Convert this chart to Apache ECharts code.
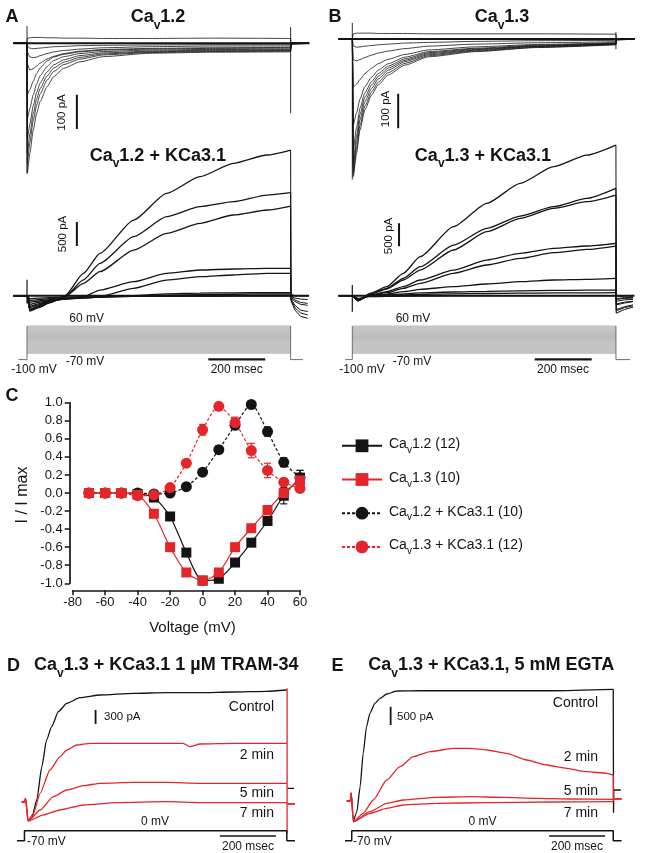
<!DOCTYPE html>
<html>
<head>
<meta charset="utf-8">
<script src="https://cdn.jsdelivr.net/npm/echarts@6.0.0/dist/echarts.min.js"></script>
<style>
html,body{margin:0;padding:0;background:#ffffff;}
#chart{width:646px;height:853px;}
</style>
</head>
<body>
<div id="chart"></div>
<script>
// ================= DATA =================
// Panel A top: CaV1.2 currents (pA) at times after step onset (ms)
const timeA1 = [0, 1, 10, 22, 34, 46, 70, 94, 129, 186, 268, 432, 650, 925];
const cav12Currents = [
  [0, -379, -321, -253, -204, -170, -127, -97, -73, -54, -39, -29, -26, -25],
  [0, -350, -290, -225, -180, -148, -108, -82, -62, -46, -34, -27, -24, -23],
  [0, -320, -265, -205, -162, -132, -96, -72, -55, -41, -31, -25, -22, -21],
  [0, -280, -235, -182, -143, -116, -84, -63, -48, -36, -28, -23, -20, -19],
  [0, -220, -190, -150, -118, -95, -68, -50, -39, -30, -24, -20, -18, -17],
  [0, -150, -135, -110, -88, -72, -52, -40, -32, -25, -20, -17, -15, -14],
  [0, -60, -78, -74, -66, -58, -46, -38, -30, -23, -18, -15, -13, -12],
  [0, -25, -40, -42, -40, -36, -30, -25, -21, -17, -13, -10, -8, -8],
  [0, -8, -14, -16, -15, -14, -12, -10, -9, -7, -6, -5, -4, -4],
  [0, 14, 16, 17, 17, 17, 16, 16, 15, 15, 14, 14, 15, 14]
];
// Panel B top: CaV1.3 currents (pA)
const timeB1 = [0, 3.5, 15, 27, 44, 68, 91, 126, 185, 267, 432, 650, 925];
const cav13Currents = [
  [0, -401, -333, -265, -207, -163, -134, -105, -76, -52, -37, -25, -17],
  [0, -390, -318, -252, -196, -154, -126, -98, -71, -49, -35, -24, -16],
  [0, -375, -300, -236, -183, -144, -117, -91, -66, -46, -33, -22, -15],
  [0, -355, -282, -220, -170, -134, -109, -85, -62, -43, -31, -21, -14],
  [0, -320, -258, -202, -157, -124, -101, -79, -58, -40, -29, -20, -13],
  [0, -250, -215, -175, -139, -111, -91, -72, -53, -37, -27, -18, -12],
  [0, -140, -132, -118, -101, -85, -72, -59, -45, -32, -23, -16, -11],
  [0, -60, -64, -60, -54, -47, -41, -35, -28, -21, -15, -11, -8],
  [0, -20, -24, -23, -21, -19, -17, -15, -12, -10, -7, -5, -4],
  [0, 15, 17, 17, 17, 17, 16, 16, 16, 15, 15, 15, 14]
];
// Panel A bottom: CaV1.2 + KCa3.1 currents (pA)
const timeA2 = [0, 10, 40, 80, 133, 198, 256, 374, 490, 607, 724, 842, 925];
const cav12KCurrents = [
  [0, -320, -250, -150, 0, 465, 882, 1576, 2132, 2479, 2757, 2931, 3035],
  [0, -300, -230, -140, -20, 330, 674, 1229, 1646, 1854, 1958, 2097, 2146],
  [0, -280, -210, -130, -20, 257, 500, 951, 1299, 1507, 1681, 1785, 1868],
  [0, -250, -190, -120, -60, -20, 118, 292, 465, 535, 556, 569, 569],
  [0, -220, -170, -110, -70, -40, -10, 153, 326, 396, 431, 465, 465],
  [0, -180, -140, -100, -70, -50, -30, 0, 40, 55, 60, 62, 62],
  [0, -140, -110, -80, -60, -45, -30, -10, 10, 20, 30, 35, 35],
  [0, -100, -80, -60, -45, -35, -25, -15, -10, -5, 0, 0, 0],
  [0, -60, -50, -40, -30, -25, -20, -15, -10, -8, -5, -5, -5]
];
const tailTimeA2 = [926, 940, 960, 985];
const cav12KTails = [
  [-100, -300, -430, -470], [-80, -250, -360, -400], [-60, -200, -300, -330],
  [-40, -120, -180, -200], [-30, -90, -140, -160], [-20, -50, -70, -80],
  [0, 0, 0, 0], [0, 0, 0, 0], [0, 0, 0, 0]
];
// Panel B bottom: CaV1.3 + KCa3.1 currents (pA)
const timeB2 = [0, 20, 62, 121, 179, 238, 355, 472, 589, 706, 823, 925];
const cav13KCurrents = [
  [0, -110, 51, 196, 486, 848, 1500, 2007, 2442, 2804, 3058, 3275],
  [0, -110, 36, 159, 377, 630, 1101, 1464, 1732, 1935, 2116, 2333],
  [0, -105, 36, 145, 341, 558, 993, 1391, 1681, 1899, 2043, 2188],
  [0, -100, 14, 87, 196, 341, 558, 775, 920, 1029, 1080, 1138],
  [0, -100, 7, 65, 159, 268, 486, 667, 812, 935, 1007, 1080],
  [0, -90, 7, 36, 87, 138, 196, 254, 304, 341, 355, 377],
  [0, -80, 0, 15, 40, 60, 80, 95, 105, 115, 120, 123],
  [0, -70, -5, 10, 20, 30, 40, 48, 55, 60, 62, 65],
  [0, -60, -20, -15, -10, -5, 0, 0, 0, 0, 0, 0]
];
const tailTimeB2 = [926, 955, 985];
const cav13KTails = [
  [-380, -300, -250], [-330, -260, -220], [-300, -240, -200], [-200, -160, -130],
  [-180, -140, -120], [-120, -90, -80], [-80, -60, -50], [-60, -45, -40], [-40, -30, -25]
];
// Voltage protocol (mV)
const stepLevels = [-70, -65, -60, -55, -50, -45, -40, -35, -30, -25, -20, -15, -10, -5,
                    0, 5, 10, 15, 20, 25, 30, 35, 40, 45, 50, 55, 60];
const holdingMV = -100;
const pulseEndMs = 925;

// Panel C: normalized I-V relations
const voltages = [-70, -60, -50, -40, -30, -20, -10, 0, 10, 20, 30, 40, 50, 60];
const cav12IV = [0, 0, 0, -0.01, -0.05, -0.26, -0.66, -0.97, -0.95, -0.77, -0.55, -0.31, -0.03, 0.17];
const cav12Err = [0.01, 0.01, 0.01, 0.01, 0.02, 0.04, 0.03, 0.01, 0.02, 0.03, 0.03, 0.04, 0.09, 0.08];
const cav13IV = [0, 0, 0, -0.02, -0.23, -0.60, -0.88, -0.97, -0.88, -0.60, -0.39, -0.19, 0.0, 0.14];
const cav13Err = [0.01, 0.01, 0.01, 0.01, 0.02, 0.03, 0.02, 0.01, 0.03, 0.04, 0.04, 0.05, 0.03, 0.03];
const cav12KIV = [0, 0, 0, 0, -0.01, 0.0, 0.07, 0.23, 0.48, 0.75, 0.98, 0.68, 0.34, 0.17];
const cav12KErr = [0.01, 0.01, 0.01, 0.01, 0.01, 0.01, 0.01, 0.02, 0.04, 0.03, 0.01, 0.05, 0.05, 0.08];
const cav13KIV = [0, 0, 0, -0.03, -0.02, 0.06, 0.33, 0.70, 0.96, 0.78, 0.47, 0.25, 0.12, 0.05];
const cav13KErr = [0.01, 0.01, 0.01, 0.01, 0.01, 0.02, 0.03, 0.06, 0.01, 0.06, 0.08, 0.08, 0.04, 0.02];
const ivNames = ['Cav1.2 (12)', 'Cav1.3 (10)', 'Cav1.2 + KCa3.1 (10)', 'Cav1.3 + KCa3.1 (12)'];

// Panel D: CaV1.3 + KCa3.1, TRAM-34 (pA)
const timeDControl = [5, 18, 36, 54, 71, 89, 113, 143, 190, 262, 381, 500, 619, 738, 857, 929];
const currentDControl = [-407, -350, 43, 756, 1328, 1613, 1934, 2114, 2233, 2291, 2328, 2341, 2341, 2355, 2370, 2398];
const timeD2 = [5, 24, 48, 83, 119, 143, 179, 226, 381, 559, 583, 619, 738, 929];
const currentD2 = [-407, -242, 186, 685, 970, 1113, 1220, 1257, 1257, 1257, 1184, 1242, 1257, 1257];
const timeD5 = [5, 48, 95, 143, 203, 262, 381, 500, 619, 738, 929];
const currentD5 = [-407, -171, 114, 257, 349, 400, 421, 421, 400, 400, 400];
const timeD7 = [5, 60, 119, 203, 321, 500, 619, 929];
const currentD7 = [-407, -278, -171, -64, -15, 6, -15, -15];
const preTimeD = [-18, -8, -4];
const preCurrentD = [0, 0, 79];
// Panel E: CaV1.3 + KCa3.1, 5 mM EGTA (pA)
const timeEControl = [5, 17, 29, 40, 52, 64, 82, 100, 124, 160, 243, 481, 719, 933];
const currentEControl = [-563, -308, 390, 1300, 2027, 2390, 2662, 2798, 2916, 2997, 3005, 3005, 3005, 3043];
const timeE2 = [5, 40, 76, 124, 171, 219, 279, 362, 421, 481, 552, 624, 695, 767, 838, 910, 933];
const currentE2 = [-563, -336, 27, 572, 935, 1208, 1344, 1435, 1435, 1390, 1299, 1117, 981, 890, 799, 754, 708];
const timeE5 = [5, 64, 124, 183, 302, 421, 540, 660, 779, 933];
const currentE5 = [-563, -290, -64, 27, 100, 118, 100, 73, 55, 45];
const timeE7 = [5, 64, 124, 183, 302, 481, 719, 933];
const currentE7 = [-563, -336, -200, -109, -64, -45, -27, -18];
const preTimeE = [-19, -6, -3];
const preCurrentE = [0, 0, 218];

// ================= LAYOUT / STYLE =================
const FONT = "'Liberation Sans', Arial, Helvetica, sans-serif";
const INK = '#141414';
const RED = '#e4262b';
const GREY = '#6e6e6e';

const grids = [
  [12.75, 22.7, 299.25, 164.6],   // 0 A top
  [12.75, 137.3, 299.25, 192],    // 1 A bottom
  [12.75, 323.9, 299.25, 37.8],   // 2 A protocol
  [338.05, 18.4, 299.25, 164.6],  // 3 B top
  [338.05, 139.3, 299.25, 193.2], // 4 B bottom
  [338.05, 323.9, 299.25, 37.8],  // 5 B protocol
  [72.7, 402.7, 227.3, 180.6],    // 6 C
  [16.9, 685.25, 287, 154.1],     // 7 D
  [16.9, 829.3, 287, 12.86],      // 8 D protocol
  [342.2, 679.9, 287, 157.8],     // 9 E
  [342.2, 829.3, 287, 12.86]      // 10 E protocol
];
const ranges = [
  [-50, 1000, -420, 60], [-50, 1000, -700, 3300], [-50, 1000, -110, 70],
  [-50, 1000, -420, 60], [-50, 1000, -800, 3400], [-50, 1000, -110, 70],
  [-80, 60, -1, 1],
  [-35, 990, -800, 2500], [-35, 990, -80, 10], [-35, 990, -1000, 3300], [-35, 990, -80, 10]
];

const xAxes = [], yAxes = [];
grids.forEach(function (g, i) {
  const r = ranges[i];
  if (i === 6) {
    xAxes.push({
      type: 'value', gridIndex: i, min: r[0], max: r[1], interval: 20, offset: 7,
      axisLine: {show: true, onZero: false, lineStyle: {color: INK, width: 1.7}},
      axisTick: {show: true, length: 5, lineStyle: {color: INK, width: 1.5}},
      axisLabel: {color: INK, fontSize: 13, fontFamily: FONT, margin: 6},
      splitLine: {show: false}
    });
    yAxes.push({
      type: 'value', gridIndex: i, min: r[2], max: r[3], interval: 0.2, offset: 3,
      axisLine: {show: true, onZero: false, lineStyle: {color: INK, width: 1.7}},
      axisTick: {show: true, length: 5, lineStyle: {color: INK, width: 1.5}},
      axisLabel: {color: INK, fontSize: 13, fontFamily: FONT, margin: 7,
        formatter: function (v) { return Math.abs(v) < 1e-9 ? '0.0' : v.toFixed(1); }},
      splitLine: {show: false}
    });
  } else {
    xAxes.push({type: 'value', gridIndex: i, min: r[0], max: r[1], show: false, splitLine: {show: false}});
    yAxes.push({type: 'value', gridIndex: i, min: r[2], max: r[3], show: false, splitLine: {show: false}});
  }
});

const series = [];
function addLine(gi, data, color, width, extra) {
  series.push(Object.assign({
    type: 'line', xAxisIndex: gi, yAxisIndex: gi, data: data,
    symbol: 'none', showSymbol: false, silent: true, animation: false,
    lineStyle: {color: color, width: width}, itemStyle: {color: color},
    emphasis: {disabled: true}, z: 2
  }, extra || {}));
}
function pairs(ts, vs) { return ts.map(function (t, i) { return [t, vs[i]]; }); }
const SMOOTH = {smooth: 0.2, smoothMonotone: 'x'};

// ---- A top / B top (Ca currents) ----
function topPanel(gi, times, traces, extraLines) {
  addLine(gi, [[-48, 0], [990, 0]], INK, 2);
  traces.forEach(function (tr) {
    addLine(gi, [[-48, 0]].concat(pairs(times, tr)), INK, 0.8, SMOOTH);
    addLine(gi, [[times[times.length - 1], tr[tr.length - 1]], [927, 0], [990, 0]], INK, 0.8);
  });
  extraLines.forEach(function (l) { addLine(gi, l, INK, 0.9); });
}
topPanel(0, timeA1, cav12Currents, [[[0, 50], [0, -380]], [[925, 47], [925, -204]]]);
topPanel(3, timeB1, cav13Currents, [[[0, 47], [0, -410]], [[925, 20], [925, -30]]]);

// ---- A bottom / B bottom (KCa3.1 currents) ----
function kPanel(gi, times, traces, tailT, tails, startLine) {
  addLine(gi, [[-48, 0], [990, 0]], INK, 2);
  traces.forEach(function (tr, k) {
    addLine(gi, [[-48, 0]].concat(pairs(times, tr)), INK, 1.3, SMOOTH);
    addLine(gi, [[times[times.length - 1], tr[tr.length - 1]]].concat(pairs(tailT, tails[k])), INK, 1.0);
  });
  addLine(gi, startLine, INK, 1.2);
}
kPanel(1, timeA2, cav12KCurrents, tailTimeA2, cav12KTails, [[0, 330], [0, -160]]);
kPanel(4, timeB2, cav13KCurrents, tailTimeB2, cav13KTails, [[0, 230], [0, -350]]);

// ---- protocols A / B ----
function protocol(gi, leftT, rightT) {
  stepLevels.forEach(function (v) {
    addLine(gi, [[0, v], [pulseEndMs, v]], '#808080', 0.55);
  });
  addLine(gi, [[leftT, holdingMV], [0, holdingMV], [0, stepLevels[stepLevels.length - 1]]], GREY, 1);
  addLine(gi, [[pulseEndMs, stepLevels[stepLevels.length - 1]], [pulseEndMs, holdingMV], [rightT, holdingMV]], GREY, 1);
}
protocol(2, -30, 968);
protocol(5, -25, 975);

// ---- scale bars (data units: 100 pA, 500 pA, 200 ms) ----
addLine(0, [[175, -150], [175, -250]], INK, 2);
addLine(1, [[175, 1035], [175, 1535]], INK, 2);
addLine(3, [[161, -160], [161, -260]], INK, 2);
addLine(4, [[164, 1075], [164, 1575]], INK, 2);
addLine(2, [[636, -99], [836, -99]], INK, 2.2);
addLine(5, [[640, -99], [840, -99]], INK, 2.2);
addLine(7, [[246, 1670], [246, 1970]], INK, 1.8);
addLine(9, [[138, 2070], [138, 2570]], INK, 1.8);
addLine(8, [[690, -37], [890, -37]], INK, 1.6);
addLine(10, [[704, -37], [904, -37]], INK, 1.6);

// ---- D traces ----
addLine(7, pairs(timeDControl, currentDControl), INK, 1.3, SMOOTH);
addLine(7, [[931, 293], [955, 293]], INK, 1.3);
[[timeD2, currentD2], [timeD5, currentD5], [timeD7, currentD7]].forEach(function (p) {
  addLine(7, pairs(preTimeD, preCurrentD).concat(pairs(p[0], p[1])), RED, 1.3, SMOOTH);
  addLine(7, [[931, -40], [958, -40]], RED, 1.3);
});
addLine(7, [[930, 2435], [930, -670]], RED, 1.3);
addLine(8, [[-35, -70], [-8, -70], [-8, 0], [929, 0], [929, -70], [958, -70]], INK, 1.5);

// ---- E traces ----
addLine(9, pairs(timeEControl, currentEControl), INK, 1.3, SMOOTH);
addLine(9, [[933, 3043], [934, -318], [935, 300], [960, 300]], INK, 1.3);
[[timeE2, currentE2], [timeE5, currentE5], [timeE7, currentE7]].forEach(function (p) {
  addLine(9, pairs(preTimeE, preCurrentE).concat(pairs(p[0], p[1])), RED, 1.3, SMOOTH);
  addLine(9, [[p[0][p[0].length - 1], p[1][p[1].length - 1]], [934, 60], [963, 60]], RED, 1.3);
});
addLine(10, [[-25, -70], [-1, -70], [-1, 0], [933, 0], [933, -70], [963, -70]], INK, 1.5);

// ---- C: I-V curves with error bars ----
function errSeries(ys, es, color) {
  return {
    type: 'custom', xAxisIndex: 6, yAxisIndex: 6, silent: true, animation: false, z: 1,
    data: voltages.map(function (v, i) { return [v, ys[i], es[i]]; }),
    renderItem: function (params, api) {
      const x = api.value(0), y = api.value(1), e = api.value(2);
      const a = api.coord([x, y + e]), b = api.coord([x, y - e]);
      const w = 3.5, st = {stroke: color, lineWidth: 1.2};
      return {type: 'group', children: [
        {type: 'line', shape: {x1: a[0], y1: a[1], x2: b[0], y2: b[1]}, style: st},
        {type: 'line', shape: {x1: a[0] - w, y1: a[1], x2: a[0] + w, y2: a[1]}, style: st},
        {type: 'line', shape: {x1: b[0] - w, y1: b[1], x2: b[0] + w, y2: b[1]}, style: st}
      ]};
    }
  };
}
function ivSeries(name, ys, color, sym, size, dashed) {
  return {
    type: 'line', name: name, xAxisIndex: 6, yAxisIndex: 6, animation: false, silent: true,
    data: voltages.map(function (v, i) { return [v, ys[i]]; }),
    symbol: sym, symbolSize: size, showSymbol: true, smooth: 0.25,
    lineStyle: {color: color, width: 1.2, type: dashed ? [3, 2] : 'solid'},
    itemStyle: {color: color, borderWidth: 0}, emphasis: {disabled: true}, z: 3
  };
}
series.push(errSeries(cav12KIV, cav12KErr, INK));
series.push(errSeries(cav12IV, cav12Err, INK));
series.push(errSeries(cav13KIV, cav13KErr, RED));
series.push(errSeries(cav13IV, cav13Err, RED));
series.push(ivSeries(ivNames[2], cav12KIV, INK, 'circle', 11, true));
series.push(ivSeries(ivNames[0], cav12IV, INK, 'rect', 10, false));
series.push(ivSeries(ivNames[3], cav13KIV, RED, 'circle', 11, true));
series.push(ivSeries(ivNames[1], cav13IV, RED, 'rect', 10, false));

// ---- text (graphic) ----
const titleRich = {
  m: {fontSize: 18, fontWeight: 'bold', fontFamily: FONT, fill: INK, color: INK, lineHeight: 22, verticalAlign: 'top'},
  s: {fontSize: 12, fontWeight: 'bold', fontFamily: FONT, fill: INK, color: INK, lineHeight: 14, verticalAlign: 'top', padding: [11, 0, 0, 0]}
};
function ca(rest) { return '{m|Ca}{s|v}{m|' + rest + '}'; }
function T(x, y, text, size, o) {
  o = o || {};
  const st = {
    text: text, fill: o.color || INK, fontSize: size, fontWeight: o.bold ? 'bold' : 'normal',
    fontFamily: FONT, align: o.align || 'center', verticalAlign: o.va || 'middle',
    textAlign: o.align || 'center', textVerticalAlign: o.va || 'middle'
  };
  if (o.rich) st.rich = o.rich;
  return {type: 'text', x: x, y: y, rotation: o.rot || 0, silent: true, z: 100, style: st};
}
const R90 = Math.PI / 2;
const texts = [
  T(12, 17, 'A', 18, {bold: true}),
  T(335, 17, 'B', 18, {bold: true}),
  T(12, 396, 'C', 18, {bold: true}),
  T(13.5, 666, 'D', 18, {bold: true}),
  T(337.5, 666, 'E', 18, {bold: true}),
  T(158, 19.5, ca('1.2'), 18, {rich: titleRich}),
  T(502, 19.5, ca('1.3'), 18, {rich: titleRich}),
  T(157.8, 158, ca('1.2 + KCa3.1'), 18, {rich: titleRich}),
  T(483, 158, ca('1.3 + KCa3.1'), 18, {rich: titleRich}),
  T(34, 667.5, ca('1.3 + KCa3.1 1 µM TRAM-34'), 18, {rich: titleRich, align: 'left'}),
  T(368.3, 667.5, ca('1.3 + KCa3.1, 5 mM EGTA'), 18, {rich: titleRich, align: 'left'}),
  T(62, 112.5, '100 pA', 11.5, {rot: R90}),
  T(62.5, 234, '500 pA', 11.5, {rot: R90}),
  T(386, 109, '100 pA', 11.5, {rot: R90}),
  T(388.7, 236, '500 pA', 11.5, {rot: R90}),
  T(86.7, 318.3, '60 mV', 12), T(85, 361.7, '-70 mV', 12), T(34, 369.3, '-100 mV', 12), T(236.7, 369.3, '200 msec', 12),
  T(413, 318.3, '60 mV', 12), T(412, 361.7, '-70 mV', 12), T(362, 369.3, '-100 mV', 12), T(563, 369.3, '200 msec', 12),
  T(23, 495, 'I / I max', 16, {rot: R90}),
  T(192.5, 628, 'Voltage (mV)', 15),
  T(104, 717, '300 pA', 11.5, {align: 'left'}),
  T(274, 707, 'Control', 14, {align: 'right'}),
  T(274, 755, '2 min', 14, {align: 'right'}),
  T(274, 793, '5 min', 14, {align: 'right'}),
  T(274, 813, '7 min', 14, {align: 'right'}),
  T(155, 822, '0 mV', 12),
  T(27, 842, '-70 mV', 12, {align: 'left'}),
  T(248, 847, '200 msec', 12),
  T(397, 717, '500 pA', 11.5, {align: 'left'}),
  T(598, 703, 'Control', 14, {align: 'right'}),
  T(598, 757, '2 min', 14, {align: 'right'}),
  T(598, 791, '5 min', 14, {align: 'right'}),
  T(598, 813, '7 min', 14, {align: 'right'}),
  T(482.5, 822, '0 mV', 12),
  T(353, 842, '-70 mV', 12, {align: 'left'}),
  T(577, 847, '200 msec', 12)
];

const chart = echarts.init(document.getElementById('chart'), null, {renderer: 'canvas'});
chart.setOption({
  animation: false,
  backgroundColor: '#ffffff',
  textStyle: {fontFamily: FONT},
  grid: grids.map(function (g) { return {left: g[0], top: g[1], width: g[2], height: g[3], show: false, containLabel: false}; }),
  xAxis: xAxes,
  yAxis: yAxes,
  legend: {
    show: true, orient: 'vertical', left: 336, top: 432.3, itemWidth: 40, itemHeight: 16, itemGap: 15.7,
    selectedMode: false, data: ivNames,
    lineStyle: {width: 2},
    itemStyle: {borderWidth: 0},
    formatter: function (name) { return '{m|Ca}{s|v}{m|' + name.slice(3) + '}'; },
    textStyle: {
      color: INK, fontSize: 14, fontFamily: FONT, padding: [0, 0, 0, 2],
      rich: {
        m: {fontSize: 14, fontFamily: FONT, color: INK, lineHeight: 17, verticalAlign: 'top'},
        s: {fontSize: 10, fontFamily: FONT, color: INK, lineHeight: 12, verticalAlign: 'top', padding: [8, 0, 0, 0]}
      }
    }
  },
  series: series,
  graphic: {elements: texts}
});
</script>
</body>
</html>
